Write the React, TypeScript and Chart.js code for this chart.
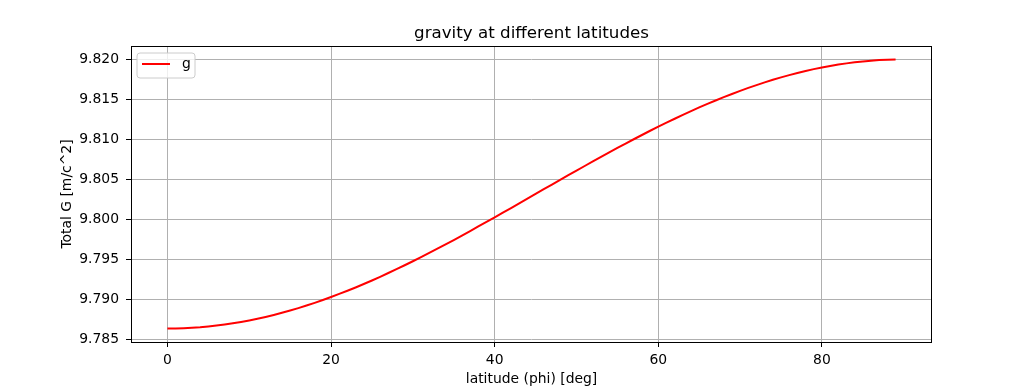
import React, { useEffect, useRef } from "react";
import { Chart, registerables } from "chart.js";

Chart.register(...registerables);

const latitudes: number[] = Array.from({ length: 90 }, (_, i) => i);
const gravity: number[] = [
  9.7864, 9.78641, 9.78644, 9.78649, 9.78656, 9.78666, 9.78677, 9.7869, 9.78705, 9.78722,
  9.78741, 9.78762, 9.78785, 9.7881, 9.78837, 9.78865, 9.78895, 9.78927, 9.78961, 9.78996,
  9.79033, 9.79072, 9.79112, 9.79153, 9.79196, 9.7924, 9.79286, 9.79333, 9.79381, 9.7943,
  9.7948, 9.79531, 9.79584, 9.79637, 9.79691, 9.79745, 9.79801, 9.79857, 9.79914, 9.79971,
  9.80028, 9.80086, 9.80144, 9.80203, 9.80261, 9.8032, 9.80379, 9.80437, 9.80496, 9.80554,
  9.80612, 9.80669, 9.80726, 9.80783, 9.80839, 9.80895, 9.80949, 9.81003, 9.81056, 9.81109,
  9.8116, 9.8121, 9.81259, 9.81307, 9.81354, 9.814, 9.81444, 9.81487, 9.81528, 9.81568,
  9.81607, 9.81644, 9.81679, 9.81713, 9.81745, 9.81775, 9.81803, 9.8183, 9.81855, 9.81878,
  9.81899, 9.81918, 9.81935, 9.8195, 9.81963, 9.81974, 9.81984, 9.81991, 9.81996, 9.81999,
];
const xTicks: number[] = [0, 20, 40, 60, 80];
const yTicks: number[] = [9.785, 9.79, 9.795, 9.8, 9.805, 9.81, 9.815, 9.82];
const chartTitle = "gravity at different latitudes";
const xTitle = "latitude (phi) [deg]";
const yTitle = "Total G [m/c^2]";
const seriesLabel = "g";

const FONT = "'DejaVu Sans', sans-serif";
const TICK_SIZE = 13.9;

export default function App() {
  const ref = useRef<HTMLCanvasElement | null>(null);
  useEffect(() => {
    if (!ref.current) return;
    const xMin = Math.min(...latitudes);
    const xMax = Math.max(...latitudes);
    const xPad = (xMax - xMin) * 0.05;
    const yMin = Math.min(...gravity);
    const yMax = Math.max(...gravity);
    const yPad = (yMax - yMin) * 0.05;

    const decor = {
      id: "decor",
      afterDraw(chart: any) {
        const { ctx, chartArea: a } = chart;
        ctx.save();
        ctx.strokeStyle = "#000";
        ctx.lineWidth = 1;
        ctx.strokeRect(Math.round(a.left) + 0.5, Math.round(a.top) + 0.5, Math.round(a.right - a.left) - 1, Math.round(a.bottom - a.top));
        ctx.fillStyle = "#000";
        ctx.font = `16.7px ${FONT}`;
        ctx.textAlign = "center";
        ctx.textBaseline = "alphabetic";
        ctx.fillText(chartTitle, (a.left + a.right) / 2, 38);
        ctx.font = `${TICK_SIZE}px ${FONT}`;
        ctx.textBaseline = "top";
        ctx.fillText(xTitle, (a.left + a.right) / 2, 372);
        ctx.save();
        ctx.translate(67, (a.top + a.bottom) / 2);
        ctx.rotate(-Math.PI / 2);
        ctx.textBaseline = "middle";
        ctx.fillText(yTitle, 0, 0);
        ctx.restore();
        const lx = 137, ly = 53, lw = 58, lh = 25, r = 3;
        ctx.beginPath();
        ctx.moveTo(lx + r, ly);
        ctx.arcTo(lx + lw, ly, lx + lw, ly + lh, r);
        ctx.arcTo(lx + lw, ly + lh, lx, ly + lh, r);
        ctx.arcTo(lx, ly + lh, lx, ly, r);
        ctx.arcTo(lx, ly, lx + lw, ly, r);
        ctx.closePath();
        ctx.fillStyle = "rgba(255,255,255,0.8)";
        ctx.fill();
        ctx.strokeStyle = "#cccccc";
        ctx.lineWidth = 1;
        ctx.stroke();
        ctx.strokeStyle = "#ff0000";
        ctx.lineWidth = 2;
        ctx.beginPath();
        ctx.moveTo(142, 64);
        ctx.lineTo(170, 64);
        ctx.stroke();
        ctx.fillStyle = "#000";
        ctx.font = `${TICK_SIZE}px ${FONT}`;
        ctx.textAlign = "left";
        ctx.textBaseline = "middle";
        ctx.fillText(seriesLabel, 182, 64);
        ctx.restore();
      },
    };

    const chart = new Chart(ref.current, {
      type: "line",
      data: {
        datasets: [
          {
            label: seriesLabel,
            data: latitudes.map((x, i) => ({ x, y: gravity[i] })),
            borderColor: "#ff0000",
            borderWidth: 2,
            pointRadius: 0,
            fill: false,
            tension: 0,
          },
        ],
      },
      options: {
        animation: false,
        responsive: false,
        devicePixelRatio: 1,
        layout: { padding: { left: 0, top: 46, right: 104, bottom: 0 } },
        plugins: { legend: { display: false }, title: { display: false }, tooltip: { enabled: false } },
        scales: {
          x: {
            type: "linear",
            min: xMin - xPad,
            max: xMax + xPad,
            afterBuildTicks: (s: any) => {
              s.ticks = xTicks.map((v) => ({ value: v }));
            },
            afterFit: (s: any) => {
              s.height = 44;
            },
            grid: { color: "#b0b0b0", lineWidth: 1, drawTicks: true, tickLength: 5, tickColor: "#000", tickWidth: 1 },
            border: { display: false },
            ticks: {
              color: "#000",
              font: { family: FONT, size: TICK_SIZE },
              padding: 5,
              maxRotation: 0,
              autoSkip: false,
              callback: (v: any) => String(v),
            },
          },
          y: {
            type: "linear",
            min: yMin - yPad,
            max: yMax + yPad,
            afterBuildTicks: (s: any) => {
              s.ticks = yTicks.map((v) => ({ value: v }));
            },
            afterFit: (s: any) => {
              s.width = 131;
            },
            grid: { color: "#b0b0b0", lineWidth: 1, drawTicks: true, tickLength: 5, tickColor: "#000", tickWidth: 1 },
            border: { display: false },
            ticks: {
              color: "#000",
              font: { family: FONT, size: TICK_SIZE },
              padding: 7,
              autoSkip: false,
              callback: (v: any) => Number(v).toFixed(3),
            },
          },
        },
      },
      plugins: [decor],
    } as any);
    return () => chart.destroy();
  }, []);

  return (
    <div style={{ position: "fixed", left: 0, top: 0, width: 1036, height: 386, background: "#fff" }}>
      <canvas ref={ref} width={1036} height={386} style={{ width: 1036, height: 386, display: "block" }} />
    </div>
  );
}
